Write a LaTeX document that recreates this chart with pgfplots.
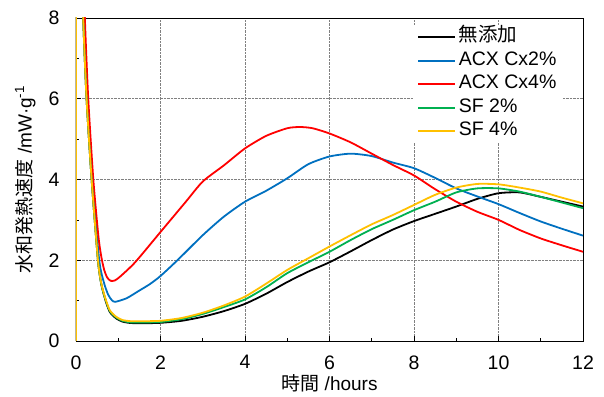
\documentclass[border=0pt]{standalone}
\usepackage{fontspec}
\setmainfont{Liberation Sans}
\newfontfamily\jp{Noto Sans CJK JP}
\usepackage{pgfplots}
\pgfplotsset{compat=1.18}
\definecolor{cblue}{RGB}{0,112,192}
\definecolor{cred}{RGB}{255,0,0}
\definecolor{cgreen}{RGB}{0,176,80}
\definecolor{cyellow}{RGB}{255,192,0}
\begin{document}
\fontsize{19bp}{22bp}\selectfont
\begin{tikzpicture}
\useasboundingbox (-76bp,-56bp) rectangle (528bp,341bp);
\begin{axis}[
  scale only axis, width=507bp, height=323bp,
  at={(0,0)}, anchor=south west,
  xmin=0, xmax=12, ymin=0, ymax=8,
  xtick={0,2,...,12}, ytick={0,2,...,8},
  minor xtick={1,3,...,11}, minor ytick={1,3,5,7},
  xtick pos=bottom, ytick pos=left,
  tick align=inside,
  major tick length=5bp, minor tick length=3.5bp,
  every tick/.style={black, line width=0.6bp},
  /pgf/number format/assume math mode=true,
  tick label style={font=\fontsize{19.5bp}{22bp}\selectfont},
  xticklabel style={yshift=-8bp},
  yticklabel style={xshift=-10bp},
  grid=major,
  major grid style={densely dotted, gray, line width=0.6bp},
  axis line style={black, line width=0.8bp},
  xlabel={{\jp 時間} /hours},
  ylabel={{\jp 水和発熱速度} /mW·g\textsuperscript{-1}},
  label style={font=\fontsize{19bp}{22bp}\selectfont},
  every axis x label/.style={at={(axis description cs:0.5,-0.13)}, anchor=center},
  every axis y label/.style={at={(axis description cs:-0.1,0.5)}, rotate=90, anchor=center},
  legend style={at={(axis description cs:0.665,0.978)}, anchor=north west,
    draw=none, fill=white, inner xsep=4bp, inner ysep=2bp,
    font=\fontsize{19.5bp}{22bp}\selectfont, row sep=4bp,
    nodes={inner ysep=1bp, inner xsep=2.5bp, text height=13.5bp, text depth=4bp}},
  legend cell align=left,
  legend image code/.code={\draw[#1, line width=2bp] (0bp,0bp) -- (37bp,0bp);},
  every axis plot/.append style={line width=1.8bp, smooth, tension=0.4},
]
\addplot[black] coordinates {
(0,0) (0.005,14) (0.12,10) (0.17,8) (0.25,6) (0.37,4) (0.52,2) (0.6,1.4) (0.7,1.0) (0.8,0.72) (0.95,0.56) (1.1,0.48) (1.3,0.445) (1.6,0.44) (2,0.45) (2.5,0.5) (3,0.6) (3.5,0.74) (4,0.92) (4.5,1.17) (5,1.46) (5.5,1.72) (6,1.95) (6.5,2.22) (7,2.5) (7.5,2.76) (8,2.97) (8.5,3.15) (9,3.33) (9.5,3.52) (10,3.66) (10.5,3.68) (11,3.57) (11.5,3.45) (12,3.33)};
\addlegendentry{\jp 無添加}
\addplot[cblue] coordinates {
(0,0) (0.005,14) (0.13,10) (0.18,8) (0.26,6) (0.38,4) (0.55,2) (0.66,1.45) (0.76,1.15) (0.85,1.01) (0.93,0.97) (1.2,1.06) (1.5,1.25) (1.75,1.41) (2,1.61) (2.4,2.0) (3,2.62) (3.5,3.08) (4,3.45) (4.5,3.72) (5,4.03) (5.5,4.38) (6,4.57) (6.5,4.64) (7,4.58) (7.5,4.42) (8,4.28) (8.5,4.04) (9,3.78) (9.5,3.58) (10,3.39) (10.5,3.17) (11,2.96) (11.5,2.78) (12,2.61)};
\addlegendentry{ACX Cx2\%}
\addplot[cred] coordinates {
(0,0) (0.005,14) (0.16,10) (0.21,8) (0.29,6) (0.41,4) (0.53,2.6) (0.6,2.08) (0.67,1.75) (0.74,1.57) (0.82,1.49) (0.92,1.5) (1.05,1.6) (1.4,1.95) (2,2.7) (2.6,3.45) (3,3.95) (3.5,4.35) (4,4.77) (4.5,5.08) (5,5.27) (5.3,5.3) (5.6,5.27) (6,5.14) (6.5,4.92) (7,4.64) (7.5,4.36) (8,4.1) (8.5,3.76) (9,3.45) (9.5,3.2) (10,3.0) (10.5,2.75) (11,2.54) (11.5,2.37) (12,2.21)};
\addlegendentry{ACX Cx4\%}
\addplot[cgreen] coordinates {
(0,0) (0.005,14) (0.12,10) (0.17,8) (0.25,6) (0.37,4) (0.52,2) (0.6,1.4) (0.7,1.02) (0.8,0.74) (0.95,0.58) (1.1,0.5) (1.3,0.46) (1.6,0.46) (2,0.47) (2.5,0.54) (3,0.67) (3.5,0.84) (4,1.03) (4.5,1.33) (5,1.68) (5.5,1.95) (6,2.21) (6.5,2.5) (7,2.77) (7.5,3.0) (8,3.24) (8.5,3.45) (9,3.68) (9.5,3.78) (10,3.78) (10.5,3.7) (11,3.57) (11.5,3.43) (12,3.29)};
\addlegendentry{SF 2\%}
\addplot[cyellow] coordinates {
(0,0) (0.005,14) (0.12,10) (0.17,8) (0.25,6) (0.37,4) (0.52,2) (0.6,1.42) (0.7,1.04) (0.8,0.76) (0.95,0.6) (1.1,0.52) (1.3,0.49) (1.6,0.49) (2,0.5) (2.5,0.57) (3,0.7) (3.5,0.88) (4,1.1) (4.5,1.42) (5,1.76) (5.5,2.05) (6,2.34) (6.5,2.62) (7,2.89) (7.5,3.12) (8,3.37) (8.5,3.62) (9,3.8) (9.5,3.89) (10,3.88) (10.5,3.8) (11,3.7) (11.5,3.55) (12,3.41)};
\addlegendentry{SF 4\%}
\end{axis}
\end{tikzpicture}
\end{document}
